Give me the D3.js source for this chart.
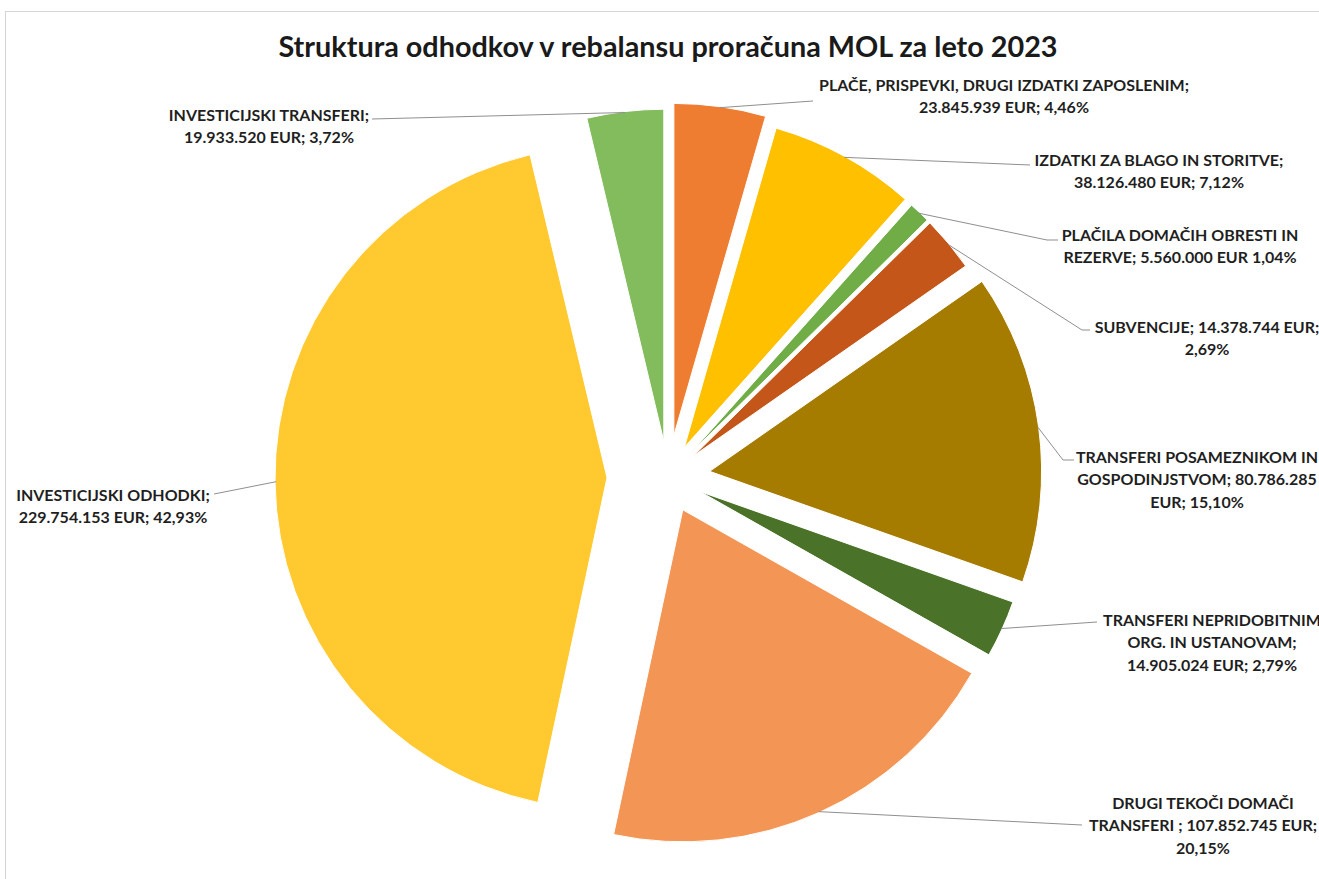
<!DOCTYPE html>
<html>
<head>
<meta charset="utf-8">
<script src="https://cdn.jsdelivr.net/npm/d3@7/dist/d3.min.js"></script>
<style>
  html, body { margin: 0; padding: 0; background: #fff; }
  svg { display: block; }
</style>
</head>
<body>
<svg id="chart" width="1319" height="879"></svg>
<script>
// data (EUR), clockwise from 12 o'clock
var categories = [
    "PLAČE, PRISPEVKI, DRUGI IZDATKI ZAPOSLENIM",
    "IZDATKI ZA BLAGO IN STORITVE",
    "PLAČILA DOMAČIH OBRESTI IN REZERVE",
    "SUBVENCIJE",
    "TRANSFERI POSAMEZNIKOM IN GOSPODINJSTVOM",
    "TRANSFERI NEPRIDOBITNIM ORG. IN USTANOVAM",
    "DRUGI TEKOČI DOMAČI TRANSFERI",
    "INVESTICIJSKI ODHODKI",
    "INVESTICIJSKI TRANSFERI"
];
var values = [23845939, 38126480, 5560000, 14378744, 80786285, 14905024, 107852745, 229754153, 19933520];

// label text as it is wrapped in the picture
var labelLines = [
    ["PLAČE, PRISPEVKI, DRUGI IZDATKI ZAPOSLENIM;", "23.845.939 EUR; 4,46%"],
    ["IZDATKI ZA BLAGO IN STORITVE;", "38.126.480 EUR; 7,12%"],
    ["PLAČILA DOMAČIH OBRESTI IN", "REZERVE; 5.560.000 EUR 1,04%"],
    ["SUBVENCIJE; 14.378.744 EUR;", "2,69%"],
    ["TRANSFERI POSAMEZNIKOM IN", "GOSPODINJSTVOM; 80.786.285", "EUR; 15,10%"],
    ["TRANSFERI NEPRIDOBITNIM", "ORG. IN USTANOVAM;", "14.905.024 EUR; 2,79%"],
    ["DRUGI TEKOČI DOMAČI", "TRANSFERI ; 107.852.745 EUR;", "20,15%"],
    ["INVESTICIJSKI ODHODKI;", "229.754.153 EUR; 42,93%"],
    ["INVESTICIJSKI TRANSFERI;", "19.933.520 EUR; 3,72%"]
];

// styling / layout
var colors = ["#EE7D32", "#FFC000", "#70AD47", "#C4561A", "#A67C00", "#4A7329", "#F39655", "#FFC92F", "#82BC5C"];
var explode = [42, 34, 33, 33, 42, 35, 36, 61, 36];
var labelAt = [[1004, 85], [1159, 160], [1180, 235], [1207, 327], [1197, 457], [1212, 620], [1203, 803], [113, 495], [269, 115]];
var leaderTo = [
    [[813, 101]],
    [[1030, 165]],
    [[1047, 240], [1058, 240]],
    [[1082, 330], [1090, 330]],
    [[1063, 460], [1074, 460]],
    [[1097, 622]],
    [[1082, 825]],
    [[214, 494]],
    [[372, 119]]
];

var cx = 668, cy = 477, radius = 332, lineGap = 22.5;

var svg = d3.select("#chart");

// chart area frame
svg.append("rect")
    .attr("x", 5.5).attr("y", 11.5)
    .attr("width", 1400).attr("height", 1000)
    .attr("fill", "none")
    .attr("stroke", "#d4d4d4");

svg.append("text")
    .attr("x", cx).attr("y", 47)
    .attr("dy", "0.35em")
    .attr("text-anchor", "middle")
    .style("font-family", "Lato, 'Open Sans', sans-serif")
    .style("font-weight", "bold")
    .style("font-size", "28.8px")
    .style("fill", "#1a1a1a")
    .text("Struktura odhodkov v rebalansu proračuna MOL za leto 2023");

var pie = d3.pie().sort(null).value(function(d) { return d; });
var arcs = pie(values);

var arc = d3.arc().innerRadius(0).outerRadius(radius);

function shift(d, i) {
    var a = (d.startAngle + d.endAngle) / 2;
    return [Math.sin(a) * explode[i], -Math.cos(a) * explode[i]];
}

var g = svg.append("g").attr("transform", "translate(" + cx + "," + cy + ")");

g.selectAll("path.slice")
    .data(arcs)
    .enter().append("path")
    .attr("class", "slice")
    .attr("d", arc)
    .attr("transform", function(d, i) {
        var s = shift(d, i);
        return "translate(" + s[0] + "," + s[1] + ")";
    })
    .attr("fill", function(d, i) { return colors[i]; })
    .attr("stroke", "#fff")
    .attr("stroke-width", 1);

// leader lines: from the middle of each slice's rim out to its label
var line = d3.line();
svg.selectAll("path.leader")
    .data(arcs)
    .enter().append("path")
    .attr("class", "leader")
    .attr("d", function(d, i) {
        var a = (d.startAngle + d.endAngle) / 2;
        var s = shift(d, i);
        var rim = [cx + s[0] + Math.sin(a) * (radius - 1), cy + s[1] - Math.cos(a) * (radius - 1)];
        return line([rim].concat(leaderTo[i]));
    })
    .attr("fill", "none")
    .attr("stroke", "#8f8f8f")
    .attr("stroke-width", 1);

var labels = svg.selectAll("text.lbl")
    .data(labelLines)
    .enter().append("text")
    .attr("class", "lbl")
    .attr("text-anchor", "middle")
    .style("font-family", "Lato, 'Open Sans', sans-serif")
    .style("font-weight", "bold")
    .style("font-size", "16px")
    .style("fill", "#1f1f1f");

labels.selectAll("tspan")
    .data(function(d, i) { return d.map(function(t) { return {t: t, i: i}; }); })
    .enter().append("tspan")
    .attr("x", function(d) { return labelAt[d.i][0]; })
    .attr("y", function(d, j) { return labelAt[d.i][1] + j * lineGap; })
    .attr("dy", "0.35em")
    .text(function(d) { return d.t; });
</script>
</body>
</html>
